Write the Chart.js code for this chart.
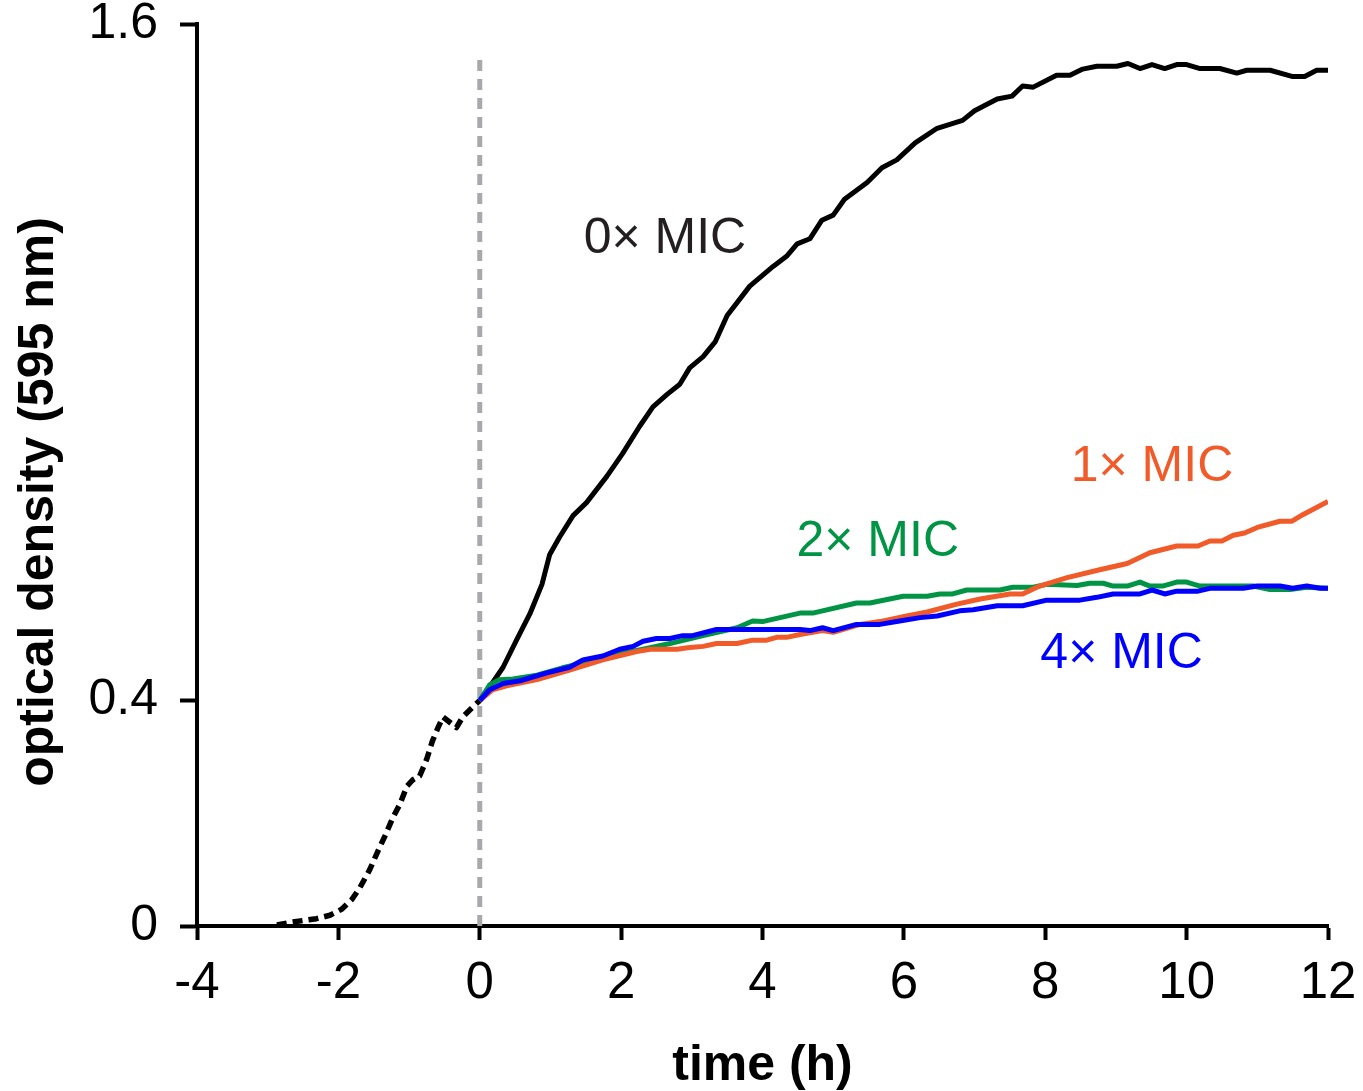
<!DOCTYPE html>
<html>
<head>
<meta charset="utf-8">
<title>optical density</title>
<script src="https://cdn.jsdelivr.net/npm/chart.js@4.4.0/dist/chart.umd.min.js"></script>
<style>
  html, body { margin: 0; padding: 0; background: #fff; }
  #myChart { display: block; }
</style>
</head>
<body>
<canvas id="myChart" width="1363" height="1091"></canvas>
<script>
// axis ticks
const xTicks = [-4, -2, 0, 2, 4, 6, 8, 10, 12];
const yTicks = [0, 0.4, 1.6];

// growth before antibiotic was added (dashed)
const preTime = [-2.87, -2.65, -2.31, -2.12, -1.95, -1.81, -1.7, -1.56, -1.44, -1.34, -1.23, -1.13, -1.03, -0.95, -0.85, -0.75, -0.67, -0.59, -0.52, -0.42, -0.33, -0.24, -0.11, 0];
const preOD = [0.002, 0.007, 0.013, 0.019, 0.03, 0.047, 0.067, 0.099, 0.133, 0.16, 0.192, 0.216, 0.248, 0.259, 0.266, 0.296, 0.328, 0.352, 0.371, 0.361, 0.352, 0.371, 0.387, 0.4];

// 0x MIC
const mic0Time = [0, 0.14, 0.33, 0.52, 0.71, 0.88, 0.99, 1.13, 1.32, 1.51, 1.8, 2.02, 2.26, 2.45, 2.65, 2.83, 2.97, 3.16, 3.33, 3.5, 3.82, 4.15, 4.34, 4.49, 4.67, 4.84, 5.0, 5.16, 5.48, 5.69, 5.9, 6.16, 6.47, 6.83, 7.0, 7.32, 7.53, 7.68, 7.83, 8.16, 8.35, 8.53, 8.73, 9.01, 9.17, 9.34, 9.51, 9.69, 9.86, 10.0, 10.19, 10.47, 10.71, 10.85, 11.18, 11.49, 11.67, 11.84, 12];
const mic0OD = [0.4, 0.424, 0.459, 0.507, 0.554, 0.606, 0.659, 0.69, 0.728, 0.751, 0.798, 0.838, 0.886, 0.921, 0.943, 0.961, 0.99, 1.01, 1.036, 1.083, 1.135, 1.17, 1.188, 1.21, 1.219, 1.252, 1.261, 1.289, 1.319, 1.345, 1.359, 1.389, 1.415, 1.429, 1.446, 1.467, 1.472, 1.49, 1.488, 1.509, 1.509, 1.52, 1.525, 1.525, 1.53, 1.521, 1.528, 1.521, 1.528, 1.528, 1.521, 1.521, 1.513, 1.518, 1.518, 1.507, 1.507, 1.518, 1.518];

// 1x MIC
const mic1Time = [0, 0.18, 0.38, 0.81, 1.27, 1.74, 2.22, 2.41, 2.79, 2.97, 3.16, 3.35, 3.64, 3.86, 4.06, 4.2, 4.34, 4.53, 4.85, 5.0, 5.19, 5.38, 5.66, 6.04, 6.33, 6.75, 7.08, 7.5, 7.68, 7.92, 8.31, 8.77, 9.16, 9.48, 9.86, 10.16, 10.33, 10.5, 10.66, 10.82, 11.0, 11.32, 11.49, 11.65, 12];
const mic1OD = [0.4, 0.419, 0.426, 0.437, 0.454, 0.472, 0.487, 0.491, 0.491, 0.494, 0.496, 0.501, 0.501, 0.507, 0.507, 0.512, 0.512, 0.517, 0.524, 0.521, 0.528, 0.535, 0.54, 0.55, 0.557, 0.571, 0.58, 0.589, 0.589, 0.603, 0.618, 0.632, 0.643, 0.662, 0.674, 0.674, 0.683, 0.683, 0.693, 0.697, 0.707, 0.718, 0.718, 0.73, 0.753];

// 2x MIC
const mic2Time = [0, 0.14, 0.28, 0.47, 0.81, 1.17, 1.46, 1.74, 2.02, 2.31, 2.69, 3.16, 3.64, 3.86, 4.0, 4.53, 4.71, 5.33, 5.52, 5.99, 6.33, 6.51, 6.69, 6.89, 7.36, 7.54, 7.83, 8.02, 8.45, 8.63, 8.82, 8.96, 9.16, 9.34, 9.48, 9.66, 9.86, 10.0, 10.19, 10.94, 11.18, 11.46, 11.7, 12];
const mic2OD = [0.4, 0.428, 0.437, 0.438, 0.445, 0.458, 0.466, 0.475, 0.484, 0.491, 0.501, 0.515, 0.529, 0.541, 0.54, 0.555, 0.555, 0.573, 0.573, 0.585, 0.585, 0.589, 0.589, 0.596, 0.596, 0.601, 0.601, 0.606, 0.604, 0.608, 0.608, 0.603, 0.603, 0.61, 0.603, 0.603, 0.61, 0.61, 0.603, 0.603, 0.597, 0.597, 0.601, 0.599];

// 4x MIC
const mic4Time = [0, 0.14, 0.33, 0.57, 0.95, 1.27, 1.46, 1.74, 1.98, 2.17, 2.31, 2.5, 2.69, 2.87, 3.01, 3.35, 4.53, 4.67, 4.85, 5.0, 5.33, 5.66, 5.94, 6.23, 6.47, 6.79, 6.98, 7.32, 7.68, 8.02, 8.49, 8.73, 8.96, 9.34, 9.51, 9.69, 9.86, 10.16, 10.33, 10.8, 11.0, 11.32, 11.5, 11.7, 11.89, 12];
const mic4OD = [0.4, 0.419, 0.43, 0.435, 0.449, 0.459, 0.472, 0.479, 0.491, 0.496, 0.505, 0.51, 0.51, 0.515, 0.515, 0.526, 0.526, 0.524, 0.529, 0.524, 0.535, 0.535, 0.541, 0.547, 0.55, 0.559, 0.561, 0.568, 0.568, 0.578, 0.578, 0.583, 0.589, 0.589, 0.596, 0.589, 0.594, 0.594, 0.599, 0.599, 0.603, 0.603, 0.599, 0.603, 0.599, 0.599];

// gray dashed marker at time of antibiotic addition
const markerTime = [0, 0];
const markerOD = [0, 1.537];

// curve labels
const labelText = ["0× MIC", "1× MIC", "2× MIC", "4× MIC"];
const labelTime = [2.62, 9.51, 5.63, 9.08];
const labelOD = [1.219, 0.814, 0.681, 0.482];
const labelColor = ["#231f20", "#f15a29", "#009444", "#0000ff"];

const yTitle = "optical density (595 nm)";

const FONT = "'Liberation Sans', Arial, Helvetica, sans-serif";

function toPoints(xs, ys) {
  return xs.map((x, i) => ({ x: x, y: ys[i] }));
}

function line(data, color, dash, width) {
  return {
    data: data,
    borderColor: color,
    borderWidth: width || 5,
    borderDash: dash || [],
    pointRadius: 0,
    tension: 0,
    fill: false,
    borderJoinStyle: "round",
    borderCapStyle: "butt",
  };
}

// "n× MIC" text next to the curves + y title (sits a bit below the axis middle)
const curveLabels = {
  id: "curveLabels",
  afterDatasetsDraw(chart) {
    const { ctx, scales } = chart;
    ctx.save();
    ctx.font = "50px " + FONT;
    ctx.textAlign = "center";
    ctx.textBaseline = "middle";
    labelText.forEach((t, i) => {
      ctx.fillStyle = labelColor[i];
      ctx.fillText(t, scales.x.getPixelForValue(labelTime[i]), scales.y.getPixelForValue(labelOD[i]));
    });

    ctx.translate(39, 502);
    ctx.rotate(-Math.PI / 2);
    ctx.fillStyle = "#000";
    ctx.font = "bold 50px " + FONT;
    ctx.fillText(yTitle, 0, 0);
    ctx.restore();
  },
};

new Chart(document.getElementById("myChart"), {
  type: "line",
  data: {
    datasets: [
      line(toPoints(mic4Time, mic4OD), "#0000ff"),
      line(toPoints(mic1Time, mic1OD), "#f15a29"),
      line(toPoints(mic2Time, mic2OD), "#009444"),
      line(toPoints(mic0Time, mic0OD), "#000000"),
      line(toPoints(preTime, preOD), "#000000", [10, 6], 5.5),
      line(toPoints(markerTime, markerOD), "#a7a9ac", [11, 8], 5),
    ],
  },
  options: {
    responsive: false,
    animation: false,
    devicePixelRatio: 1,
    layout: { padding: { top: 24, right: 35, left: 0, bottom: 0 } },
    plugins: {
      legend: { display: false },
      tooltip: { enabled: false },
    },
    scales: {
      x: {
        type: "linear",
        min: -4,
        max: 12,
        afterBuildTicks: (s) => {
          s.ticks = xTicks.map((v) => ({ value: v }));
        },
        afterFit: (s) => {
          s.height = 165;
          // let layout padding decide the chart area, not label overflow
          s.paddingLeft = 0;
          s.paddingRight = 0;
        },
        ticks: {
          autoSkip: false,
          maxRotation: 0,
          padding: 18,
          color: "#000",
          font: { family: FONT, size: 51, lineHeight: 1 },
          callback: (v) => String(v),
        },
        grid: {
          drawOnChartArea: false,
          tickLength: 14,
          tickWidth: 4,
          tickColor: "#000",
        },
        border: { display: true, color: "#000", width: 4 },
        title: {
          display: true,
          text: "time (h)",
          color: "#000",
          font: { family: FONT, size: 50, weight: "bold", lineHeight: 1 },
          padding: { top: 0, bottom: 0 },
        },
      },
      y: {
        type: "linear",
        min: 0,
        max: 1.6,
        afterBuildTicks: (s) => {
          s.ticks = yTicks.map((v) => ({ value: v }));
        },
        afterFit: (s) => {
          s.width = 197;
          s.paddingTop = 0;
          s.paddingBottom = 0;
        },
        ticks: {
          padding: 22,
          color: "#000",
          font: { family: FONT, size: 50, lineHeight: 1 },
          callback: (v) => String(v),
        },
        grid: {
          drawOnChartArea: false,
          tickLength: 17,
          tickWidth: 4,
          tickColor: "#000",
        },
        border: { display: true, color: "#000", width: 4 },
        title: { display: false },
      },
    },
  },
  plugins: [curveLabels],
});
</script>
</body>
</html>
